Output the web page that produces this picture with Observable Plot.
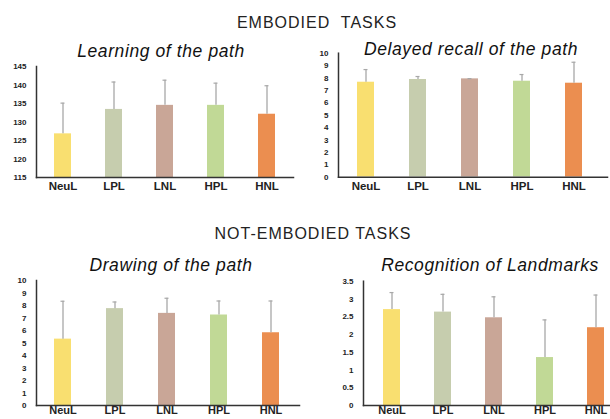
<!DOCTYPE html>
<html><head><meta charset="utf-8">
<script src="https://cdn.jsdelivr.net/npm/d3@7"></script>
<script src="https://cdn.jsdelivr.net/npm/@observablehq/plot@0.6"></script>
<style>
html,body{margin:0;padding:0;background:#fff;}
body{width:610px;height:419px;overflow:hidden;position:relative;font-family:"Liberation Sans",Arial,sans-serif;}
.t{position:absolute;transform:translate(-50%,-50%);white-space:pre;color:#222;}
.sec{font-size:16px;letter-spacing:1px;}
.sub{font-size:17.5px;font-style:italic;letter-spacing:0.6px;color:#111;}
.p{position:absolute;}
.p svg{overflow:visible;}
</style></head>
<body>
<div class="t sec" style="left:317px;top:23px">EMBODIED  TASKS</div>
<div class="t sec" style="left:313px;top:234px">NOT-EMBODIED TASKS</div>
<div class="t sub" style="left:161px;top:51px">Learning of the path</div>
<div class="t sub" style="left:471px;top:49px">Delayed recall of the path</div>
<div class="t sub" style="left:171px;top:265px">Drawing of the path</div>
<div class="t sub" style="left:490px;top:265px">Recognition of Landmarks</div>
<div id="p1" class="p" style="left:0px;top:60px"></div>
<div id="p2" class="p" style="left:300px;top:45px"></div>
<div id="p3" class="p" style="left:0px;top:270px"></div>
<div id="p4" class="p" style="left:300px;top:270px"></div>
<script>
const groups = ["NeuL", "LPL", "LNL", "HPL", "HNL"];
const groupColors = ["#f9df70", "#c6cdae", "#c9a697", "#c1d996", "#eb8e50"];

const learningMean = [126.8, 133.4, 134.5, 134.5, 132.1];
const learningSD   = [8.3, 7.4, 6.8, 6.0, 7.7];
const learningTicks = [115, 120, 125, 130, 135, 140, 145];

const recallMean = [7.66, 7.88, 7.93, 7.74, 7.58];
const recallSD   = [1.02, 0.24, 0.02, 0.54, 1.69];
const recallTicks = [0, 1, 2, 3, 4, 5, 6, 7, 8, 9, 10];

const drawingMean = [5.31, 7.75, 7.37, 7.24, 5.82];
const drawingSD   = [3.03, 0.53, 1.21, 1.12, 2.54];
const drawingTicks = [0, 1, 2, 3, 4, 5, 6, 7, 8, 9, 10];

const landmarkMean = [2.70, 2.63, 2.47, 1.35, 2.19];
const landmarkSD   = [0.48, 0.50, 0.59, 1.06, 0.92];
const landmarkTicks = [0, 0.5, 1, 1.5, 2, 2.5, 3, 3.5];

function panel(el, means, sds, ticks, o) {
  const data = groups.map((g, i) => ({g, mean: means[i], top: means[i] + sds[i]}));
  const chart = Plot.plot({
    width: o.width, height: o.height,
    marginLeft: o.ml, marginRight: o.mr, marginTop: o.mt, marginBottom: o.mb,
    style: {fontFamily: "'Liberation Sans', Arial, sans-serif", background: "transparent", overflow: "visible"},
    x: {domain: groups, paddingInner: o.pi, paddingOuter: o.po, align: o.align, label: null},
    y: {domain: [ticks[0], ticks[ticks.length - 1]], label: null},
    color: {domain: groups, range: groupColors},
    marks: [
      Plot.barY(data, {x: "g", y: "mean", fill: "g", clip: true}),
      Plot.ruleX(data, {x: "g", y1: "mean", y2: "top", stroke: "#a8a8a8", strokeWidth: 1.3}),
      Plot.tickY(data, {x: "g", y: "top", stroke: "#a8a8a8", strokeWidth: 1.2, insetLeft: 6.5, insetRight: 6.5}),
      Plot.axisY({ticks, tickFormat: d => String(d), tickSize: 0, tickPadding: 10, fontSize: 8, fontWeight: "bold", fill: "#222", label: null}),
      Plot.axisX({tickSize: 0, tickPadding: o.xpad, fontSize: o.xfs, fontWeight: "bold", fill: "#222", label: null}),
      Plot.frame({anchor: "left", stroke: "#333", strokeWidth: 1.5}),
      Plot.frame({anchor: "bottom", stroke: "#333", strokeWidth: 1.5})
    ]
  });
  document.getElementById(el).appendChild(chart);
}

panel("p1", learningMean, learningSD, learningTicks,
  {width: 300, height: 145, ml: 36, mr: 7, mt: 6, mb: 28, pi: 0.66, po: 0.32, align: 0.5, xpad: 4, xfs: 11.5});
panel("p2", recallMean, recallSD, recallTicks,
  {width: 310, height: 160, ml: 38, mr: 3, mt: 7.7, mb: 28.3, pi: 0.68, po: 0.4, align: 0.43, xpad: 5, xfs: 11.5});
panel("p3", drawingMean, drawingSD, drawingTicks,
  {width: 300, height: 170, ml: 36, mr: 1, mt: 10, mb: 35, pi: 0.667, po: 0.35, align: 0.47, xpad: 1, xfs: 11});
panel("p4", landmarkMean, landmarkSD, landmarkTicks,
  {width: 310, height: 170, ml: 63, mr: 0, mt: 10.7, mb: 35, pi: 0.67, po: 0.215, align: 0.76, xpad: 1, xfs: 11});
</script>
</body></html>
